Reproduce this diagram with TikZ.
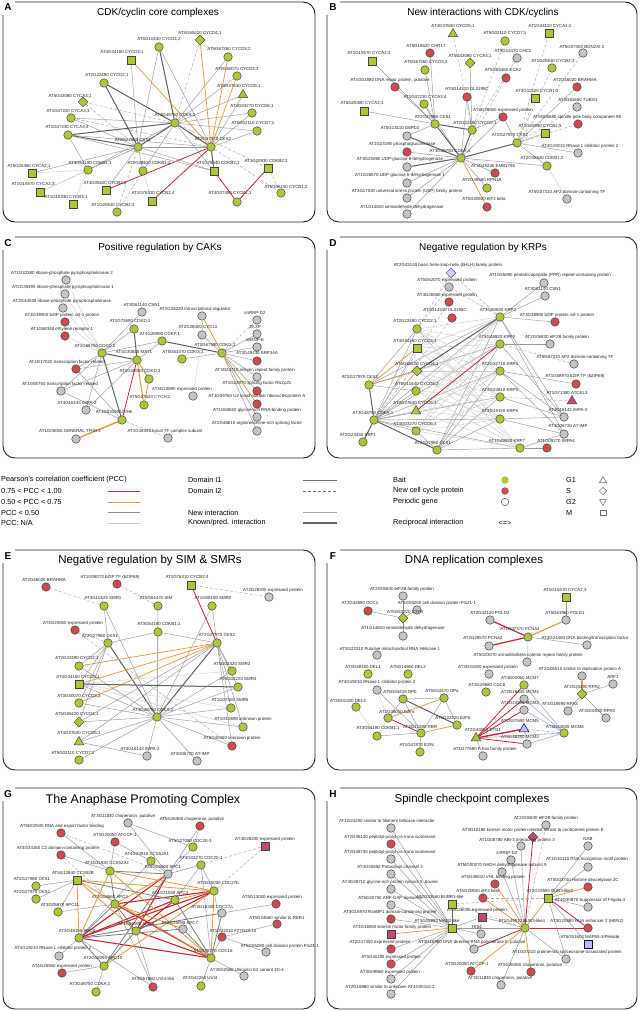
\documentclass[tikz,border=0pt]{standalone}
\usepackage{fontspec}
\setmainfont{Liberation Sans}
\usetikzlibrary{shapes.geometric}
\pgfdeclarelayer{bg}
\pgfsetlayers{bg,main}
\definecolor{cg}{RGB}{172,200,52}
\definecolor{cr}{RGB}{206,74,78}
\definecolor{cy}{RGB}{196,196,196}
\definecolor{cm}{RGB}{198,72,122}
\definecolor{cb}{RGB}{186,190,236}
\definecolor{ndb}{RGB}{70,70,70}
\definecolor{eor}{RGB}{232,152,60}
\definecolor{ered}{RGB}{196,40,52}
\definecolor{eblu}{RGB}{150,160,220}
\tikzset{
 nd/.style={draw=ndb,line width=0.5pt,inner sep=0pt},
 ng/.style={nd,circle,fill=cg,minimum size=8.5pt},
 nr/.style={nd,circle,fill=cr,minimum size=8.5pt},
 ny/.style={nd,circle,fill=cy,minimum size=8.5pt},
 ngs/.style={nd,rectangle,fill=cg,minimum size=8pt},
 nms/.style={nd,rectangle,fill=cm,minimum size=8pt},
 nbs/.style={draw=blue!45!black,line width=0.5pt,inner sep=0pt,rectangle,fill=cb,minimum size=8pt},
 ngd/.style={nd,diamond,fill=cg,minimum size=10pt},
 nmd/.style={nd,diamond,fill=cm,minimum size=10pt},
 npd/.style={draw=blue!40!gray,line width=0.5pt,inner sep=0pt,diamond,fill=cb!70,minimum size=10pt},
 ngt/.style={nd,regular polygon,regular polygon sides=3,fill=cg,minimum size=11pt},
 nrt/.style={nd,regular polygon,regular polygon sides=3,fill=cm,minimum size=11pt},
 nbt/.style={draw=blue!45!black,line width=0.5pt,inner sep=0pt,regular polygon,regular polygon sides=3,fill=cb,minimum size=11pt},
 lbl/.style={inner sep=0pt,font=\fontsize{4.4}{5}\selectfont,text=black!85},
 ea/.style={draw=black!40,line width=0.45pt},
 ek/.style={draw=black!62,line width=1.0pt},
 el/.style={draw=black!20,line width=0.4pt},
 ed/.style={draw=black!30,dash pattern=on 3pt off 2pt,line width=0.5pt},
 eo/.style={draw=eor,line width=0.7pt},
 er/.style={draw=ered,line width=0.8pt},
 eb/.style={draw=eblu,line width=0.5pt},
 frame/.style={draw=black!85,line width=0.9pt,rounded corners=12pt},
 ttl/.style={font=\fontsize{10}{12}\selectfont},
 ttlb/.style={font=\fontsize{11.5}{13}\selectfont},
 letter/.style={font=\fontsize{10}{12}\selectfont\bfseries},
 leg/.style={anchor=west,inner sep=0pt,font=\fontsize{7.3}{8}\selectfont},
 lsym/.style={draw=black!60,line width=0.5pt,fill=white,inner sep=0pt}
}
\newcommand\ND[7]{\node[#4] (#1) at (#2,#3) {}; \node[lbl] at (#5,#6) {#7};}
\begin{document}
\begin{tikzpicture}[x=1pt,y=-1pt]
\useasboundingbox (0,0) rectangle (641,1011);
\begin{pgfonlayer}{bg}
\fill[white] (0,0) rectangle (641,1011);
\end{pgfonlayer}
% ---------- frames ----------
\draw[frame] (15,2) -- (315,2) -- (315,222) -- (3,222) -- (3,15);
\draw[frame] (340,2) -- (637,2) -- (637,222) -- (327,222) -- (327,15);
\draw[frame] (15,237) -- (315,237) -- (315,458) -- (3,458) -- (3,250);
\draw[frame] (340,237) -- (637,237) -- (637,458) -- (327,458) -- (327,250);
\draw[frame] (15,550) -- (315,550) -- (315,770) -- (3,770) -- (3,563);
\draw[frame] (340,550) -- (637,550) -- (637,770) -- (327,770) -- (327,563);
\draw[frame] (15,788) -- (315,788) -- (315,1009) -- (3,1009) -- (3,801);
\draw[frame] (340,788) -- (637,788) -- (637,1009) -- (327,1009) -- (327,801);
\node[letter] (LA) at (8,7) {A};
\node[letter] (LB) at (333,7) {B};
\node[letter] (LC) at (8,243) {C};
\node[letter] (LD) at (333,243) {D};
\node[letter] (LE) at (8,556) {E};
\node[letter] (LF) at (333,556) {F};
\node[letter] (LG) at (8,794) {G};
\node[letter] (LH) at (333,794) {H};
\node[ttl] (TA) at (158,13) {CDK/cyclin core complexes};
\node[ttl] (TB) at (483,13) {New interactions with CDK/cyclins};
\node[ttl] (TC) at (160,248) {Positive regulation by CAKs};
\node[ttl] (TD) at (483,248) {Negative regulation by KRPs};
\node[ttlb] (TE) at (150,561) {Negative regulation by SIM \& SMRs};
\node[ttlb] (TF) at (474,561) {DNA replication complexes};
\node[ttlb,font=\fontsize{12.5}{14}\selectfont] (TG) at (143,800) {The Anaphase Promoting Complex};
\node[ttlb] (TH) at (472,800) {Spindle checkpoint complexes};
% ---------- Panel A ----------
\ND{a1}{200}{40}{ngd}{200}{33}{AT5G65420 CYCD4;1}
\ND{a2}{159}{47}{ng}{159}{39}{AT5G10440 CYCD4;2}
\ND{a3}{131}{60}{ngs}{122}{52}{AT4G34160 CYCD3;1}
\ND{a4}{228}{57}{ng}{229}{49}{AT5G67260 CYCD3;2}
\ND{a5}{104}{83}{ng}{107}{75}{AT2G22490 CYCD2;1}
\ND{a6}{237}{76}{ng}{237}{69}{AT5G60070 CYCD3;3}
\ND{a7}{243}{95}{ngt}{239}{86}{AT4G37630 CYCD5;1}
\ND{a8}{83}{102}{ngd}{70}{96}{AT5G43080 CYCA3;1}
\ND{a9}{71}{118}{ng}{68}{111}{AT1G47220 CYCA3;3}
\ND{a10}{252}{113}{ng}{252}{106}{AT4G03270 CYCD6;1}
\ND{a11}{175}{123}{ng}{175}{115}{AT3G48750 CDKA;1}
\ND{a12}{68}{135}{ng}{67}{127}{AT1G47230 CYCA3;4}
\ND{a13}{257}{131}{ng}{253}{123}{AT5G02110 CYCD7;1}
\ND{a14}{138}{147}{ng}{133}{140}{AT2G27960 CKS1}
\ND{a15}{211}{147}{ng}{213}{139}{AT2G27970 CKS2}
\ND{a16}{88}{170}{ng}{90}{163}{AT3G54180 CDKB1;1}
\ND{a17}{143}{171}{ng}{149}{163}{AT2G38620 CDKB1;2}
\ND{a18}{214}{171}{ngs}{218}{163}{AT1G76540 CDKB2;1}
\ND{a19}{268}{168}{ngs}{266}{161}{AT1G20930 CDKB2;2}
\ND{a20}{32}{173}{ngs}{29}{166}{AT5G25380 CYCA2;1}
\ND{a21}{40}{192}{ngs}{33}{184}{AT1G15570 CYCA2;3}
\ND{a22}{106}{190}{ngs}{105}{183}{AT4G35620 CYCB2;2}
\ND{a23}{73}{204}{ngs}{66}{197}{AT1G16330 CYCB3;1}
\ND{a24}{152}{201}{ngs}{153}{193}{AT1G76310 CYCB2;4}
\ND{a25}{237}{202}{ng}{230}{193}{AT4G37490 CYCB1;1}
\ND{a26}{281}{193}{ng}{286}{187}{AT5G06150 CYCB1;2}
\ND{a27}{117}{212}{ng}{113}{205}{AT1G20610 CYCB2;3}
% ---------- Panel B ----------
\ND{b1}{453}{34}{ngt}{453}{26}{AT4G37630 CYCD5;1}
\ND{b2}{549}{33}{ngs}{550}{26}{AT1G44110 CYCA1;1}
\ND{b3}{505}{41}{ng}{505}{33}{AT5G02110 CYCD7;1}
\ND{b4}{430}{53}{nr}{426}{46}{AT5G18620 CHR17}
\ND{b5}{583}{53}{ny}{582}{47}{AT5G07300 BONZAI 2}
\ND{b6}{517}{58}{ny}{513}{51}{AT5G14170 CHC1}
\ND{b7}{372}{61}{ngs}{369}{53}{AT1G15570 CYCA2;3}
\ND{b8}{470}{63}{ngd}{470}{56}{AT5G43080 CYCA3;1}
\ND{b9}{425}{70}{ng}{426}{62}{AT5G67260 CYCD3;2}
\ND{b10}{552}{68}{ng}{553}{61}{AT1G20610 CYCB2;3}
\ND{b11}{506}{78}{nr}{503}{70}{AT5G65460 KCA2}
\ND{b12}{395}{87}{nr}{390}{80}{AT1G01880 DNA repair protein, putative}
\ND{b13}{577}{87}{nr}{575}{80}{AT2G46020 BRAHMA}
\ND{b14}{467}{97}{nr}{467}{89}{AT4G14310 DL3195C}
\ND{b15}{535}{98}{ngs}{537}{91}{AT3G11520 CYCB1;3}
\ND{b16}{424}{104}{ng}{425}{97}{AT1G47230 CYCA3;4}
\ND{b17}{364}{111}{ngs}{362}{103}{AT5G25380 CYCA2;1}
\ND{b18}{577}{107}{ny}{578}{100}{AT3G61650 TUBG1}
\ND{b19}{503}{117}{nr}{503}{110}{AT4G25550 expressed protein}
\ND{b20}{435}{124}{ng}{433}{117}{AT2G27960 CKS1}
\ND{b21}{472}{130}{ng}{475}{123}{AT2G22490 CYCD2;1}
\ND{b22}{578}{124}{nr}{577}{117}{AT5G06680 spindle pole body component 98}
\ND{b23}{407}{136}{ny}{400}{128}{AT5G13110 G6PD2}
\ND{b24}{545}{133}{ngs}{540}{126}{AT1G20590 CYCB2;5}
\ND{b25}{517}{143}{ng}{510}{135}{AT2G27970 CKS2}
\ND{b26}{407}{152}{nr}{402}{144}{AT1G23190 phosphoglucomutase}
\ND{b27}{578}{153}{ny}{580}{146}{AT4G19210 RNase L inhibitor protein 2}
\ND{b28}{461}{158}{ng}{450}{151}{AT3G48750 CDKA;1}
\ND{b29}{407}{167}{ny}{400}{159}{AT3G25060 UDP-glucose 6-dehydrogenase}
\ND{b30}{495}{173}{nr}{493}{166}{AT3G49240 EMB1796}
\ND{b31}{547}{166}{ng}{542}{158}{AT2G38620 CDKB1;2}
\ND{b32}{407}{183}{ny}{400}{175}{AT1G26570 UDP-glucose 6-dehydrogenase 1}
\ND{b33}{487}{188}{ng}{482}{180}{AT2G39580 RPN1A}
\ND{b34}{407}{198}{ny}{407}{191}{AT3G17020 universal stress protein (USP) family protein}
\ND{b35}{567}{199}{ny}{567}{192}{AT5G07310 AP2 domain-containing TF}
\ND{b36}{487}{207}{nr}{484}{199}{AT5G20920 eIF2 beta}
\ND{b37}{407}{214}{ny}{402}{207}{AT1G14810 semialdehyde dehydrogenase}
% ---------- Panel C ----------
\ND{c1}{66}{280}{ny}{62}{273}{AT1G32380 ribose-phosphate pyrophosphokinase 2}
\ND{c2}{65}{294}{ny}{63}{287}{AT2G35390 ribose-phosphate pyrophosphokinase 1}
\ND{c3}{63}{308}{ny}{62}{301}{AT2G44530 ribose-phosphate pyrophosphokinase}
\ND{c4}{65}{322}{nr}{62}{315}{AT4G38900 bZIP protein vsf-1 protein}
\ND{c5}{65}{336}{nr}{62}{329}{AT1G68340 ethylene receptor 1}
\ND{c6}{142}{312}{ny}{142}{305}{AT3G61140 CSN1}
\ND{c7}{202}{316}{ny}{195}{309}{AT1G26220 transcriptional regulator}
\ND{c8}{257}{320}{ny}{255}{313}{snRNP-D2}
\ND{c9}{134}{329}{ng}{130}{321}{AT1G73690 CDKD;1}
\ND{c10}{202}{335}{ny}{198}{327}{AT2G28400 CYCL1}
\ND{c11}{257}{334}{ny}{255}{327}{49.XP}
\ND{c12}{162}{341}{ng}{160}{334}{AT4G28980 CDKF;1}
\ND{c13}{257}{347}{ny}{255}{340}{snRNP-E}
\ND{c14}{102}{353}{ng}{95}{346}{AT1G66750 CDKD;2}
\ND{c15}{137}{360}{ng}{134}{352}{AT4G30820 MAT1}
\ND{c16}{182}{359}{ng}{183}{352}{AT5G63370 CDKG;1}
\ND{c17}{222}{353}{ng}{215}{345}{AT1G67580 CDKG;2}
\ND{c18}{257}{361}{nr}{257}{353}{AT3G49430 SRP34A}
\ND{c19}{76}{369}{nr}{67}{362}{AT4G17020 transcription factor-related}
\ND{c20}{149}{379}{ng}{140}{371}{AT1G18040 CDKD;3}
\ND{c21}{257}{377}{ny}{255}{370}{AT3G24710 ankyrin repeat family protein}
\ND{c22}{61}{391}{ny}{60}{384}{AT1G55750 transcription factor-related}
\ND{c23}{257}{391}{nr}{257}{383}{AT1G23970 splicing factor RSZp21}
\ND{c24}{193}{396}{ny}{182}{389}{AT3G24690 expressed protein}
\ND{c25}{144}{405}{ng}{150}{397}{AT5G27620 CYCH;1}
\ND{c26}{257}{404}{nr}{257}{396}{AT1G09760 U2 small nuclear ribonucleoprotein A}
\ND{c27}{86}{410}{ny}{77}{403}{AT4G16143 IMPA-2}
\ND{c28}{257}{417}{ny}{257}{410}{AT1G60650 glycine-rich RNA-binding protein}
\ND{c29}{122}{420}{ng}{114}{412}{AT1G03190 UVH6}
\ND{c30}{257}{431}{ny}{257}{423}{AT2G46610 arginine/serine-rich splicing factor}
\ND{c31}{76}{439}{ny}{70}{431}{AT1G05055 GENERAL TFIIH 2}
\ND{c32}{168}{438}{ny}{165}{431}{AT1G18349 basal TF complex subunit}
% ---------- Panel D ----------
\ND{d1}{451}{273}{npd}{448}{265}{AT2G43140 basic helix-loop-helix (bHLH) family protein}
\ND{d2}{544}{283}{ny}{550}{275}{AT1G55890 pentatricopeptide (PPR) repeat-containing protein}
\ND{d3}{449}{287}{ny}{447}{280}{AT5G62070 expressed protein}
\ND{d4}{545}{296}{ny}{543}{289}{AT3G61140 CSN1}
\ND{d5}{449}{302}{nr}{447}{295}{AT4G26560 expressed protein}
\ND{d6}{452}{318}{nr}{445}{310}{AT4G14310 DL3195C}
\ND{d7}{500}{317}{ng}{498}{310}{AT3G50630 KRP2}
\ND{d8}{555}{322}{nr}{557}{315}{AT4G38900 bZIP protein vsf-1 protein}
\ND{d9}{417}{329}{ng}{415}{321}{AT2G22490 CYCD2;1}
\ND{d10}{500}{344}{ng}{497}{337}{AT5G48820 KRP3}
\ND{d11}{550}{344}{ny}{557}{337}{AT2G05830 eIF2B family protein}
\ND{d12}{417}{348}{ngs}{415}{341}{AT4G34160 CYCD3;1}
\ND{d13}{417}{371}{ngd}{417}{364}{AT5G65420 CYCD4;1}
\ND{d14}{574}{364}{ny}{575}{357}{AT5G07310 AP2 domain-containing TF}
\ND{d15}{500}{371}{ng}{500}{364}{AT2G32710 KRP4}
\ND{d16}{369}{385}{ng}{360}{377}{AT2G27970 CKS2}
\ND{d17}{416}{391}{ng}{417}{384}{AT5G10440 CYCD4;2}
\ND{d18}{576}{384}{nr}{575}{376}{AT1G08970 bZIP TF (bZIP69)}
\ND{d19}{500}{397}{ng}{500}{390}{AT3G24810 KRP5}
\ND{d20}{572}{401}{nrt}{567}{393}{AT1G71380 ATCEL3}
\ND{d21}{416}{411}{ngt}{415}{403}{AT4G37630 CYCD5;1}
\ND{d22}{374}{420}{ng}{373}{413}{AT3G48750 CDKA;1}
\ND{d23}{564}{417}{ny}{568}{410}{AT4G16143 IMPA-2}
\ND{d24}{500}{419}{ng}{500}{411}{AT3G19150 KRP6}
\ND{d25}{416}{431}{ng}{415}{424}{AT4G03270 CYCD6;1}
\ND{d26}{564}{434}{ny}{568}{426}{AT3G06720 AT-IMP}
\ND{d27}{363}{442}{ng}{358}{435}{AT2G23430 KRP1}
\ND{d28}{437}{450}{ng}{433}{443}{AT2G27960 CKS1}
\ND{d29}{520}{448}{ng}{507}{441}{AT1G49620 KRP7}
\ND{d30}{547}{448}{nr}{556}{441}{AT1G09270 IMPA4}
% ---------- Panel E ----------
\ND{e1}{46}{587}{nr}{44}{580}{AT2G46020 BRAHMA}
\ND{e2}{117}{584}{nr}{110}{577}{AT1G08070 bZIP TF (bZIP69)}
\ND{e3}{191}{585}{ngs}{187}{577}{AT1G76310 CYCB2;4}
\ND{e4}{269}{597}{ny}{273}{590}{AT2G28330 expressed protein}
\ND{e5}{104}{606}{ng}{103}{598}{AT3G10525 SMR1}
\ND{e6}{158}{606}{ng}{156}{598}{AT5G04470 SIM}
\ND{e7}{212}{606}{ng}{213}{598}{AT1G08180 SMR2}
\ND{e8}{75}{630}{nr}{73}{623}{AT4G25550 expressed protein}
\ND{e9}{158}{632}{ng}{159}{624}{AT3G54180 CDKB1;1}
\ND{e10}{108}{643}{ng}{100}{636}{AT2G27960 CKS1}
\ND{e11}{217}{643}{ng}{217}{635}{AT2G27970 CKS2}
\ND{e12}{79}{666}{ng}{77}{658}{AT2G22490 CYCD2;1}
\ND{e13}{232}{671}{ng}{232}{664}{AT5G02420 SMR3}
\ND{e14}{79}{684}{ngs}{78}{677}{AT4G34160 CYCD3;1}
\ND{e15}{238}{687}{ng}{238}{679}{AT5G02220 SMR4}
\ND{e16}{79}{703}{ng}{79}{696}{AT3G50070 CYCD3;3}
\ND{e17}{231}{708}{ng}{230}{700}{AT1G07500 SMR5}
\ND{e18}{157}{717}{ng}{153}{710}{AT3G48750 CDKA;1}
\ND{e19}{79}{722}{ngd}{77}{714}{AT5G65420 CYCD4;1}
\ND{e20}{243}{727}{ng}{243}{719}{AT1G10690 unknown protein}
\ND{e21}{79}{742}{ngt}{79}{733}{AT4G37630 CYCD5;1}
\ND{e22}{232}{746}{nr}{232}{738}{AT5G40460 unknown protein}
\ND{e23}{79}{760}{ng}{73}{753}{AT5G02110 CYCD7;1}
\ND{e24}{147}{756}{ny}{140}{749}{AT4G16143 IMPA-2}
\ND{e25}{197}{761}{ny}{190}{754}{AT3G06720 AT-IMP}
% ---------- Panel F ----------
\ND{f1}{403}{596}{ny}{402}{589}{AT2G05830 eIF2B family protein}
\ND{f2}{566}{597}{ngs}{565}{590}{AT1G15570 CYCA2;3}
\ND{f3}{368}{611}{nr}{360}{603}{AT2G44580 DCC1}
\ND{f4}{417}{610}{ny}{437}{603}{AT5G55280 cell division protein FtsZ1-1}
\ND{f5}{403}{618}{ngd}{405}{612}{AT5G63220 CTF8}
\ND{f6}{490}{620}{ny}{490}{613}{AT2G42120 POLD2}
\ND{f7}{566}{620}{ny}{565}{613}{AT5G63960 POLD1}
\ND{f8}{403}{636}{ny}{403}{628}{AT1G14810 semialdehyde dehydrogenase}
\ND{f9}{528}{637}{ng}{520}{629}{AT1G07370 PCNA1}
\ND{f10}{489}{646}{ny}{483}{638}{AT2G29570 PCNA2}
\ND{f11}{587}{645}{ny}{585}{638}{AT4G24400 DNA binding/transcription factor}
\ND{f12}{377}{655}{ny}{390}{649}{AT3G22310 Putative mitochondrial RNA Helicase 1}
\ND{f13}{527}{662}{ny}{528}{655}{AT5G03070 armadillo/beta-catenin repeat family protein}
\ND{f14}{368}{674}{ng}{363}{667}{AT3G48160 DEL1}
\ND{f15}{408}{674}{ng}{408}{667}{AT5G14960 DEL2}
\ND{f16}{489}{674}{ny}{488}{667}{AT2G31820 expressed protein}
\ND{f17}{582}{676}{ny}{580}{669}{AT2G06510 similar to replication protein A}
\ND{f18}{377}{690}{ny}{377}{682}{AT4G19210 RNase L inhibitor protein 2}
\ND{f19}{524}{685}{ng}{520}{678}{AT4G02060 MCM7}
\ND{f20}{613}{684}{ny}{613}{677}{ARF1}
\ND{f21}{486}{692}{ng}{487}{685}{AT2G29680 CDC6}
\ND{f22}{524}{699}{ny}{520}{692}{AT2G16440 MCM4}
\ND{f23}{582}{694}{ngd}{582}{687}{AT2G24490 RPA2}
\ND{f24}{403}{699}{ng}{400}{692}{AT5G03415 DPb}
\ND{f25}{444}{698}{ng}{442}{691}{AT5G02470 DPa}
\ND{f26}{356}{707}{ng}{348}{701}{AT3G01330 DEL3}
\ND{f27}{524}{710}{ny}{520}{703}{AT1G44900 MCM2}
\ND{f28}{568}{711}{ny}{560}{704}{AT4G18590 RPA3}
\ND{f29}{606}{718}{ny}{597}{711}{AT3G02920 RPA3}
\ND{f30}{388}{718}{ng}{397}{712}{AT2G36010 E2Fa}
\ND{f31}{524}{729}{nbt}{520}{721}{AT2G07690 MCM5}
\ND{f32}{457}{725}{ng}{453}{718}{AT5G22220 E2Fb}
\ND{f33}{421}{733}{ng}{420}{727}{AT3G12280 RBR}
\ND{f34}{377}{736}{ng}{378}{728}{AT3G54180 CDKB1;1}
\ND{f35}{476}{738}{ngt}{483}{730}{AT2G40550 ETG1}
\ND{f36}{527}{744}{ny}{520}{737}{AT5G46280 MCM3}
\ND{f37}{564}{733}{ng}{565}{727}{AT5G44635 MCM6}
\ND{f38}{420}{752}{ng}{417}{745}{AT1G47870 E2Fc}
\ND{f39}{483}{756}{ny}{485}{749}{AT1G77680 F-box family protein}
% ---------- Panel G ----------
\ND{g1}{128}{823}{ny}{123}{816}{AT3G11830 chaperonin, putative}
\ND{g2}{200}{826}{nr}{192}{819}{AT5G26360 chaperonin, putative}
\ND{g3}{61}{833}{nr}{62}{826}{AT5G02530 RNA and export factor binding}
\ND{g4}{115}{842}{nr}{115}{835}{AT3G20050 ATCCP-1}
\ND{g5}{193}{847}{ng}{190}{841}{AT5G27080 CDC20-3}
\ND{g6}{265}{846}{nms}{265}{839}{AT4G28230 expressed protein}
\ND{g7}{61}{855}{nr}{58}{848}{AT4G34160 C2 domain-containing protein}
\ND{g8}{151}{861}{ng}{147}{854}{AT4G22910 CCS52A1}
\ND{g9}{201}{865}{ng}{201}{858}{AT4G33270 CDC20-1}
\ND{g10}{110}{871}{ng}{107}{863}{AT4G11920 CCS52A2}
\ND{g11}{168}{874}{ny}{163}{867}{AT5G05560 APC1}
\ND{g12}{77}{880}{ngs}{73}{873}{AT5G13840 CCS52B}
\ND{g13}{36}{886}{ng}{32}{879}{AT2G27960 CKS1}
\ND{g14}{214}{891}{ng}{218}{883}{AT2G20000 CDC27b}
\ND{g15}{36}{899}{ng}{32}{892}{AT2G27970 CKS2}
\ND{g16}{276}{904}{nr}{272}{897}{AT5G13030 expressed protein}
\ND{g17}{175}{900}{ng}{170}{893}{AT4G21530 APC4}
\ND{g18}{115}{904}{ng}{110}{897}{AT2G04660 APC2}
\ND{g19}{58}{912}{ng}{60}{905}{AT3G05870 APC11}
\ND{g20}{222}{913}{ny}{212}{907}{AT3G16320 CDC27a}
\ND{g21}{277}{924}{nr}{277}{918}{AT5G24660 similar to RER1}
\ND{g22}{136}{931}{ng}{136}{924}{AT1G06590 APC5}
\ND{g23}{183}{929}{ny}{180}{923}{AT2G39090 APC7}
\ND{g24}{79}{938}{ng}{77}{931}{AT3G48150 APC8}
\ND{g25}{222}{937}{nr}{233}{931}{AT1G32310 F27G20.14}
\ND{g26}{59}{956}{ny}{53}{948}{AT4G19210 RNase L inhibitor protein 2}
\ND{g27}{266}{952}{ny}{280}{946}{AT5G55280 cell division protein FtsZ1-1}
\ND{g28}{211}{958}{ng}{213}{951}{AT1G78770 CDC16}
\ND{g29}{104}{966}{ng}{103}{958}{AT2G18290 APC10}
\ND{g30}{62}{973}{nr}{62}{966}{AT4G25550 expressed protein}
\ND{g31}{244}{976}{ny}{247}{970}{AT3G52560 Ubiquitin E2 variant 1D-4}
\ND{g32}{153}{987}{nr}{153}{979}{AT3G57860 UVI4-like}
\ND{g33}{201}{986}{ng}{200}{978}{AT2G42260 UVI4}
\ND{g34}{96}{992}{ng}{90}{984}{AT3G48750 CDKA;1}
% ---------- Panel H ----------
\ND{h1}{546}{825}{ny}{546}{818}{AT2G05830 eIF2B family protein}
\ND{h2}{391}{828}{ny}{387}{821}{AT1G24290 similar to filament helicase interactor}
\ND{h3}{533}{837}{nmd}{533}{830}{AT3G10180 kinesin motor protein-related similar to centromere protein E}
\ND{h4}{391}{844}{nr}{390}{837}{AT2G36130 peptidyl-prolyl cis-trans isomerase}
\ND{h5}{521}{846}{ny}{517}{840}{AT1G08780 ABI-3 interacting protein 3}
\ND{h6}{588}{846}{ny}{588}{839}{NAB}
\ND{h7}{391}{859}{ny}{390}{852}{AT2G38730 peptidyl-prolyl cis-trans isomerase}
\ND{h8}{511}{860}{ny}{507}{853}{snRNP-D2}
\ND{h9}{588}{867}{ny}{587}{859}{AT4G10110 RNA recognition motif protein}
\ND{h10}{502}{872}{ny}{502}{865}{ATMG00070 NADH dehydrogenase subunit 9}
\ND{h11}{391}{874}{ny}{390}{867}{AT4G32650 Potassium channel 3}
\ND{h12}{495}{884}{nr}{493}{877}{AT5G40610 VHL binding protein}
\ND{h13}{588}{887}{nr}{583}{880}{AT5G03740 Histone deacetylase 2C}
\ND{h14}{391}{889}{ny}{390}{882}{AT4G38710 glycine-rich protein cytosol II, bovine}
\ND{h15}{483}{898}{nr}{478}{891}{AT5G20920 eIF2 beta}
\ND{h16}{391}{905}{ny}{390}{898}{AT5G40750 ARF-GAP domain 8}
\ND{h17}{452}{904}{ngs}{440}{897}{AT2G33560 BUBR1-like}
\ND{h18}{548}{898}{ngs}{550}{891}{AT3G19590 BUB3-like2}
\ND{h19}{588}{907}{ny}{590}{900}{AT4G30870 Suppressor of Frigida 4}
\ND{h20}{482}{917}{nms}{477}{910}{AT4G26030 expressed protein}
\ND{h21}{391}{919}{nr}{390}{912}{AT3G15970 RanBP1 domain-containing protein}
\ND{h22}{525}{928}{ng}{522}{921}{AT1G49910 BUB3-like1}
\ND{h23}{452}{928}{ngs}{437}{921}{AT3G25980 MAD2-like}
\ND{h24}{588}{928}{nr}{587}{921}{AT3G20680 HUA enhancer 2 (HEN2)}
\ND{h25}{391}{934}{nms}{392}{927}{AT3G16060 kinesin motor family protein}
\ND{h26}{481}{934}{ny}{477}{927}{HIS4}
\ND{h27}{588}{944}{nbs}{590}{937}{AT5G51600 MAP65-3/Pleiade}
\ND{h28}{391}{949}{nr}{380}{942}{AT2G17350 expressed protein/}
\ND{h36}{474}{949}{ny}{472}{942}{AT3G16980 DNA-directed RNA polymerase II, putative}
\ND{h29}{566}{959}{ny}{567}{952}{AT1G07210 proline-rich spliceosome-associated protein}
\ND{h30}{391}{964}{nr}{391}{957}{AT5G41190 expressed protein}
\ND{h31}{471}{971}{nr}{467}{964}{AT3G20050 ATCCP-1}
\ND{h32}{531}{972}{nr}{530}{965}{AT5G26360 chaperonin, putative}
\ND{h33}{391}{979}{ny}{390}{972}{AT3G09860 expressed protein}
\ND{h34}{501}{985}{ny}{500}{978}{AT3G11830 chaperonin, putative}
\ND{h35}{391}{994}{ny}{390}{987}{AT2G16960 similar to unknown AT4G35110.2}
% ---------- Legend ----------
\node[leg] (L1) at (1,480) {Pearson's correlation coefficient (PCC)};
\node[leg] (L2) at (1,491) {0.75 < PCC < 1.00};
\node[leg] (L3) at (1,502) {0.50 < PCC < 0.75};
\node[leg] (L4) at (1,512.5) {PCC < 0.50};
\node[leg] (L5) at (1,523) {PCC: N/A};
\coordinate (p2a) at (108,491); \coordinate (p2b) at (140,491);
\coordinate (p3a) at (108,502); \coordinate (p3b) at (140,502);
\coordinate (p4a) at (108,512.5); \coordinate (p4b) at (140,512.5);
\coordinate (p5a) at (108,523); \coordinate (p5b) at (140,523);
\draw[ered,line width=0.9pt] (p2a) -- (p2b);
\draw[eor,line width=0.9pt] (p3a) -- (p3b);
\draw[black!45,line width=0.9pt] (p4a) -- (p4b);
\draw[black!20,line width=0.9pt] (p5a) -- (p5b);
\node[leg] (M1) at (188,480) {Domain I1};
\node[leg] (M2) at (188,491) {Domain I2};
\node[leg] (M3) at (188,512.5) {New interaction};
\node[leg] (M4) at (188,523) {Known/pred. interaction};
\coordinate (q1a) at (303,480); \coordinate (q1b) at (337,480);
\coordinate (q2a) at (303,491); \coordinate (q2b) at (337,491);
\coordinate (q3a) at (303,512.5); \coordinate (q3b) at (337,512.5);
\coordinate (q4a) at (303,523); \coordinate (q4b) at (337,523);
\draw[black!55,line width=0.6pt] (q1a) -- (q1b);
\draw[black!55,line width=0.6pt,dash pattern=on 3pt off 2pt] (q2a) -- (q2b);
\draw[black!35,line width=0.6pt] (q3a) -- (q3b);
\draw[black!60,line width=1.5pt] (q4a) -- (q4b);
\node[leg] (R1) at (393,480) {Bait};
\node[leg] (R2) at (393,491) {New cell cycle protein};
\node[leg] (R3) at (393,502) {Periodic gene};
\node[leg] (R4) at (393,523) {Reciprocal interaction};
\node[circle,fill=cg,minimum size=7.5pt,inner sep=0pt] (S1) at (505,480) {};
\node[circle,fill=cr,minimum size=7.5pt,inner sep=0pt] (S2) at (505,491) {};
\node[circle,draw=blue!40!black!70,line width=0.5pt,fill=white,minimum size=7.5pt,inner sep=0pt] (S3) at (505,502) {};
\node[inner sep=0pt,font=\fontsize{7.3}{8}\selectfont] (S4) at (505,523) {<=>};
\node[leg] (G1) at (566,480) {G1};
\node[leg] (G2) at (566,491) {S};
\node[leg] (G3) at (566,502) {G2};
\node[leg] (G4) at (566,512.5) {M};
\node[lsym,regular polygon,regular polygon sides=3,minimum size=8pt] (Y1) at (603,480.5) {};
\node[lsym,diamond,minimum size=7.5pt] (Y2) at (603,491) {};
\node[lsym,regular polygon,regular polygon sides=3,shape border rotate=180,minimum size=8pt] (Y3) at (603,501.5) {};
\node[lsym,rectangle,minimum size=5.5pt] (Y4) at (603,512.5) {};
% ================= EDGES =================
\begin{pgfonlayer}{bg}
% A
\foreach \t in {a4,a6,a7,a9,a10,a13,a16,a17,a18} \draw[ea] (a11)--(\t);
\foreach \t in {a2,a5,a12,a14,a15} \draw[ek] (a11)--(\t);
\foreach \t in {a1,a19,a8} \draw[ed] (a11)--(\t);
\foreach \t in {a1,a3,a4,a6} \draw[eo] (a15)--(\t);
\foreach \t in {a22,a24} \draw[er] (a15)--(\t);
\foreach \t in {a7,a10,a13,a12,a14,a2} \draw[ea] (a15)--(\t);
\draw[ek] (a15)--(a18);
\foreach \t in {a26,a9} \draw[ed] (a15)--(\t);
\foreach \t in {a2,a3,a9,a16,a17,a20,a22,a18} \draw[ea] (a14)--(\t);
\foreach \t in {a5,a12} \draw[ek] (a14)--(\t);
\foreach \t in {a8,a27,a21} \draw[ed] (a14)--(\t);
\draw[er] (a18)--(a25); \draw[er] (a19)--(a25);
\foreach \t in {a20,a21,a23} \draw[el] (a16)--(\t);
\draw[el] (a17)--(a24); \draw[ed] (a17)--(a27); \draw[ed] (a19)--(a26);
\draw[ea] (a16)--(a12); \draw[ea] (a12)--(a18);
% B
\foreach \t in {b26,b32,b34,b37,b30,b33,b14,b16,b31,b19} \draw[ea] (b28)--(\t);
\foreach \t in {b23,b29,b21,b25,b20} \draw[ek] (b28)--(\t);
\draw[eo] (b28)--(b36); \draw[ed] (b28)--(b11);
\foreach \t in {b12,b17,b7,b9,b4,b16,b23} \draw[ea] (b20)--(\t);
\draw[ek] (b20)--(b21);
\foreach \t in {b8,b14,b19} \draw[ea] (b21)--(\t);
\foreach \t in {b3,b6,b1} \draw[ed] (b21)--(\t);
\foreach \t in {b19,b27,b31,b24,b13} \draw[ea] (b25)--(\t);
\foreach \t in {b22,b15,b10,b2,b5,b18} \draw[ed] (b25)--(\t);
\draw[el] (b31)--(b35);
% C
\foreach \t in {c1,c2,c3,c4,c5} \draw[el] (c14)--(\t);
\foreach \t in {c19,c22,c27,c9,c12,c6} \draw[ea] (c14)--(\t);
\foreach \t in {c15,c29} \draw[ek] (c14)--(\t);
\draw[ek] (c15)--(c9); \draw[eo,line width=1pt] (c15)--(c20); \draw[eo,line width=1pt] (c15)--(c25);
\draw[er] (c15)--(c29); \draw[ea] (c15)--(c19); \draw[ea] (c15)--(c22); \draw[ea] (c15)--(c27);
\draw[ek] (c12)--(c17); \draw[ea] (c12)--(c15);
\foreach \t in {c10,c11,c13,c18,c21,c23,c28,c30,c16} \draw[ea] (c17)--(\t);
\draw[eo] (c17)--(c7); \draw[eo] (c17)--(c26); \draw[ed] (c17)--(c8);
\draw[eo,line width=1.4pt] (c29)--(c31);
\draw[ed] (c29)--(c32); \draw[ea] (c29)--(c19); \draw[ea] (c29)--(c22);
\draw[eo] (c20)--(c25); \draw[el] (c10)--(c24); \draw[el] (c7)--(c10);
% D
\foreach \t in {d9,d12,d13,d17,d21,d25,d7,d10,d15,d19,d24,d29} \draw[ea] (d22)--(\t);
\foreach \t in {d16,d27,d28} \draw[ek] (d22)--(\t);
\foreach \t in {d6,d5} \draw[ed] (d22)--(\t);
\draw[eo] (d16)--(d12); \draw[eo] (d16)--(d13);
\foreach \t in {d9,d17,d7,d10} \draw[ea] (d16)--(\t);
\foreach \t in {d7,d10,d15,d19,d24,d29,d25} \draw[ea] (d28)--(\t);
\foreach \k in {d7,d10,d15,d19,d24,d29} {\foreach \c in {d9,d12,d13,d17,d21,d25} \draw[el] (\k)--(\c);}
\draw[er] (d10)--(d21); \draw[ek] (d7)--(d13);
\foreach \t in {d4,d8,d2,d23,d26} \draw[ea] (d7)--(\t);
\foreach \t in {d3,d1} \draw[ed] (d7)--(\t);
\draw[ea] (d10)--(d11); \draw[ed] (d10)--(d14); \draw[ea] (d10)--(d23);
\draw[ea] (d15)--(d18); \draw[ea] (d15)--(d23); \draw[ea] (d15)--(d26);
\draw[ed] (d19)--(d20); \draw[ea] (d19)--(d23);
\draw[ea] (d24)--(d23); \draw[ea] (d24)--(d26);
\draw[ea] (d29)--(d30); \draw[ea] (d29)--(d26);
\draw[ed] (d9)--(d1); \draw[ed] (d9)--(d3);
% E
\foreach \t in {e12,e14,e16,e19,e21,e23,e5,e6,e7,e9,e13,e15,e17,e20,e22,e24,e25} \draw[ea] (e18)--(\t);
\draw[ek] (e18)--(e10); \draw[ek] (e18)--(e11);
\foreach \t in {e12,e14,e16} \draw[eo] (e11)--(\t);
\draw[er] (e11)--(e3);
\foreach \t in {e7,e9,e13,e15,e17,e20,e22,e19,e21} \draw[ea] (e11)--(\t);
\foreach \t in {e5,e9,e12,e14,e16,e19} \draw[ea] (e10)--(\t);
\draw[ed] (e10)--(e8); \draw[ed] (e5)--(e1); \draw[ed] (e3)--(e4); \draw[ed] (e6)--(e2);
\foreach \t in {e13,e15,e17,e20} \draw[el] (e14)--(\t);
\draw[ek] (e14)--(e15); \draw[ed] (e8)--(e22); \draw[ea] (e21)--(e24);
% F
\draw[er,line width=1.2pt] (f9)--(f6); \draw[er,line width=1.2pt] (f9)--(f10);
\draw[eo,line width=1.1pt] (f9)--(f7); \draw[ea] (f9)--(f11); \draw[el] (f9)--(f13);
\draw[ea] (f7)--(f2);
\foreach \t in {f3,f4,f1,f8} \draw[ea] (f5)--(\t);
\foreach \t in {f19,f22,f27,f36} \draw[er] (f35)--(\t);
\draw[er,line width=1.4pt] (f35)--(f31);
\draw[ea] (f35)--(f39); \draw[ea] (f35)--(f37);
\foreach \t in {f19,f22,f27,f36} \draw[eb] (f37)--(\t);
\draw[eb,dash pattern=on 3pt off 2pt] (f37)--(f31);
\draw[ea] (f31)--(f36);
\draw[ea] (f24)--(f30); \draw[ek] (f24)--(f32); \draw[ea] (f24)--(f33); \draw[ea] (f24)--(f25);
\draw[eo] (f25)--(f30); \draw[ea] (f25)--(f33); \draw[ea] (f25)--(f32);
\draw[er] (f33)--(f30); \draw[eo] (f33)--(f32); \draw[ea] (f33)--(f34); \draw[ea] (f33)--(f38); \draw[ea] (f33)--(f18);
\draw[el] (f30)--(f34); \draw[el] (f30)--(f18); \draw[el] (f26)--(f34);
\draw[eo,line width=1.2pt] (f23)--(f17); \draw[ea] (f23)--(f20); \draw[ea] (f23)--(f28); \draw[ea] (f23)--(f29);
% G
\foreach \a/\b in {g24/g14,g24/g28,g24/g17,g24/g11,g22/g14,g22/g28,g11/g22,g18/g28,g18/g14,g17/g22}
  \draw[er,line width=1.1pt] (\a)--(\b);
\foreach \a/\b in {g12/g14,g12/g24,g10/g28,g10/g24,g14/g28,g14/g29,g18/g23,g12/g22,g10/g14,g11/g18,g14/g17,g12/g28}
  \draw[eo,line width=0.8pt] (\a)--(\b);
\foreach \a/\b in {g10/g11,g10/g18,g12/g17,g18/g22,g18/g24,g24/g29,g22/g29,g17/g28,g20/g28,g20/g24,g23/g24,g23/g28,g11/g29}
  \draw[ek,draw=black!50,line width=0.8pt] (\a)--(\b);
\foreach \a/\b in {g9/g11,g9/g14,g5/g11,g8/g11,g8/g24,g9/g28,g9/g17}
  \draw[eb] (\a)--(\b);
\foreach \a/\b in {g13/g12,g15/g12,g19/g12,g19/g18,g3/g10,g7/g10,g4/g8,g4/g10,g1/g5,g1/g11,g2/g5,g2/g11,g16/g20,g21/g25,g27/g25,g31/g28,g32/g22,g32/g18,g32/g24,g33/g28,g34/g29,g30/g29,g26/g24,g25/g14,g25/g28}
  \draw[ea] (\a)--(\b);
\foreach \a/\b in {g6/g11,g6/g14,g3/g11,g7/g18}
  \draw[ed] (\a)--(\b);
% H
\foreach \t in {h2,h4,h7,h11,h14,h16,h21,h28,h30,h33,h35} \draw[ea] (h23)--(\t);
\draw[eo] (h23)--(h25);
\draw[ek] (h23)--(h17); \draw[ea] (h23)--(h20); \draw[ea] (h23)--(h26); \draw[eb] (h23)--(h36); \draw[ea] (h23)--(h22);
\draw[er] (h22)--(h3); \draw[er] (h22)--(h36); \draw[er] (h22)--(h24);
\foreach \t in {h5,h8,h10,h29,h34,h20} \draw[ea] (h22)--(\t);
\foreach \t in {h12,h15,h18,h31,h32} \draw[eo] (h22)--(\t);
\foreach \t in {h17,h1} \draw[ed] (h22)--(\t);
\foreach \t in {h6,h9,h19,h27,h29} \draw[ea] (h18)--(\t);
\draw[eo] (h18)--(h13); \draw[er] (h18)--(h24);
\foreach \t in {h15,h17} \draw[ed] (h18)--(\t);
\end{pgfonlayer}
\end{tikzpicture}
\end{document}
